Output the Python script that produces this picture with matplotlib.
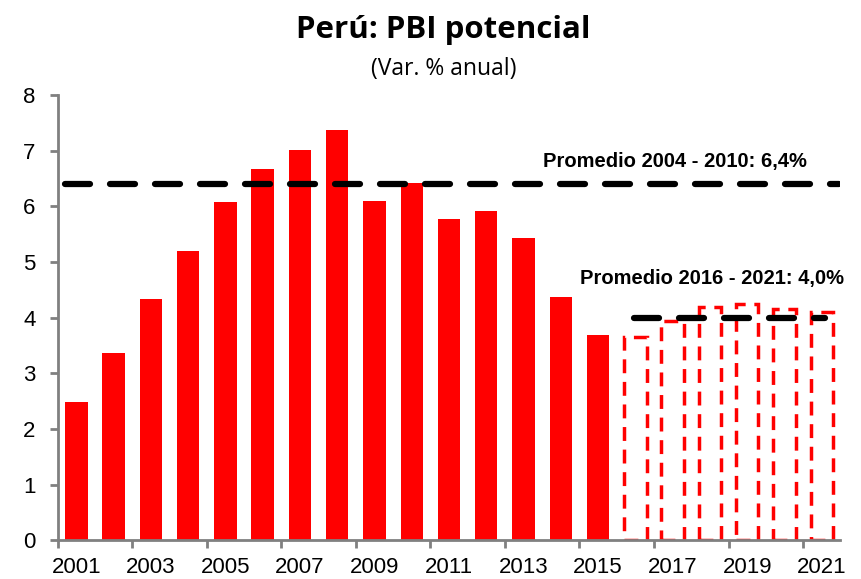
import matplotlib
matplotlib.use("Agg")
import matplotlib.pyplot as plt
import numpy as np

years = list(range(2001, 2022))
values = [2.48, 3.36, 4.33, 5.20, 6.08, 6.67, 7.01, 7.37, 6.10, 6.42,
          5.77, 5.92, 5.43, 4.37, 3.69,
          3.65, 3.94, 4.19, 4.24, 4.15, 4.10]
projected_from = 2016
avg1 = 6.4
avg2 = 4.0
avg1_label = "Promedio 2004 - 2010: 6,4%"
avg2_label = "Promedio 2016 - 2021: 4,0%"
title = "Perú: PBI potencial"
subtitle = "(Var. % anual)"

fig = plt.figure(figsize=(8.61, 5.79), dpi=100)
ax = fig.add_axes([0.067, 0.067, 0.909, 0.769])

for y, v in zip(years, values):
    if y < projected_from:
        ax.bar(y, v, width=0.6, color="#ff0000", zorder=2)
    else:
        ax.bar(y, v, width=0.6, facecolor="none", edgecolor="#ff0000",
               linewidth=2.5, linestyle=(0, (4, 2.5)), zorder=2)

ax.plot([2000.69, 2021.47], [avg1, avg1], color="black", lw=4.5,
        linestyle=(0, (4, 3.2)), dash_capstyle="round", zorder=3)
ax.plot([2015.96, 2021.1], [avg2, avg2], color="black", lw=4.5,
        linestyle=(0, (4, 3.2)), dash_capstyle="round", zorder=3)

ax.text(2017.06, 6.80, avg1_label, ha="center", va="center", fontsize=14.5,
        fontweight="bold", family="Liberation Sans")
ax.text(2018.05, 4.71, avg2_label, ha="center", va="center", fontsize=14.5,
        fontweight="bold", family="Liberation Sans")

ax.set_xlim(2000.5, 2021.5)
ax.set_ylim(0, 8)
ax.set_yticks(range(0, 9))
ax.set_yticklabels([str(i) for i in range(0, 9)], family="Liberation Sans", fontsize=16)

# labels on odd years, ticks at category boundaries
ax.set_xticks([y for y in years if y % 2 == 1])
ax.set_xticklabels([str(y) for y in years if y % 2 == 1], family="Liberation Sans", fontsize=16)
ax.tick_params(axis="x", length=0, pad=12)
ax.set_xticks([y + 0.5 for y in years if y % 2 == 0] + [2000.5], minor=True)
ax.tick_params(axis="x", which="minor", length=6, width=2, color="#808080", direction="out")
ax.tick_params(axis="y", length=6, width=2, color="#808080", direction="out", pad=10)

for s in ["top", "right"]:
    ax.spines[s].set_visible(False)
for s in ["left", "bottom"]:
    ax.spines[s].set_color("#808080")
    ax.spines[s].set_linewidth(2)

fig.text(0.515, 0.948, title, ha="center", va="center", fontsize=22.5,
         fontweight="bold", family="Open Sans")
fig.text(0.515, 0.88, subtitle, ha="center", va="center", fontsize=16.5,
         family="Open Sans")

fig.savefig("out.png", dpi=100)
